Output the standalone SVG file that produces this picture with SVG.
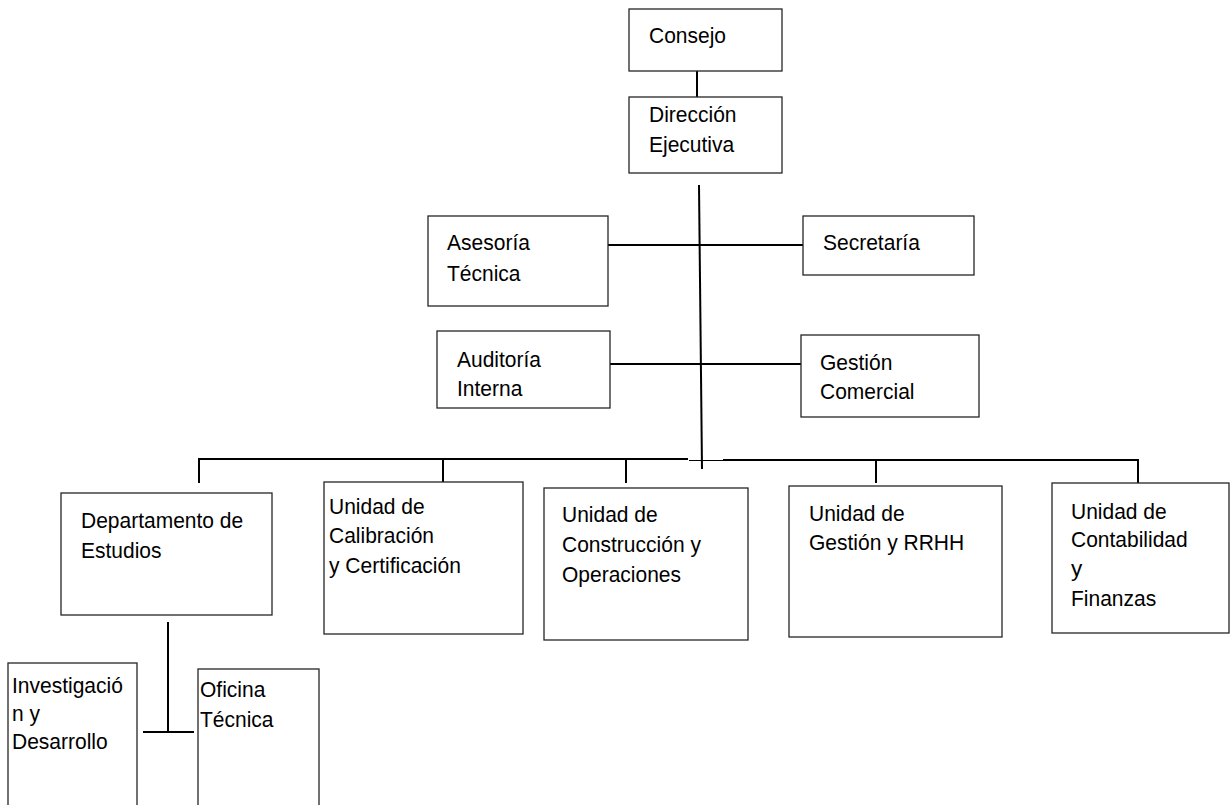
<svg xmlns="http://www.w3.org/2000/svg" width="1231" height="805" viewBox="0 0 1231 805">
<style>
  .box { fill: #ffffff; stroke: #262626; stroke-width: 1.3; }
  .t { font-family: "Liberation Sans", Arial, sans-serif; font-size: 22.5px; fill: #000000; }
  .c { stroke: #000000; stroke-width: 2; fill: none; }
  .thin { stroke: #000000; stroke-width: 1.2; fill: none; }
</style>
<rect width="1231" height="805" fill="#ffffff"/>

<g id="connectors">
  <line class="c" x1="697" y1="71" x2="697" y2="97"/>
  <line class="c" x1="699" y1="185" x2="702" y2="469"/>
  <line class="c" x1="605" y1="245" x2="803" y2="245"/>
  <line class="c" x1="603" y1="364" x2="803" y2="364"/>
  <line class="c" x1="198" y1="459" x2="688" y2="459"/>
  <line class="thin" x1="689" y1="460.5" x2="723" y2="460.5"/>
  <line class="c" x1="723" y1="460" x2="1139" y2="460"/>
  <line class="c" x1="199" y1="459" x2="199" y2="483"/>
  <line class="c" x1="443" y1="459" x2="443" y2="483"/>
  <line class="c" x1="626" y1="459" x2="626" y2="483"/>
  <line class="c" x1="876" y1="460" x2="876" y2="483"/>
  <line class="c" x1="1138" y1="460" x2="1138" y2="483"/>
  <line class="c" x1="168" y1="622" x2="168" y2="733"/>
  <line class="c" x1="143" y1="732" x2="194" y2="732"/>
</g>

<g id="consejo">
  <rect class="box" x="629" y="9" width="153" height="62"/>
  <text class="t" x="649" y="43" textLength="77" lengthAdjust="spacingAndGlyphs">Consejo</text>
</g>
<g id="direccion">
  <rect class="box" x="629" y="97" width="153" height="76"/>
  <text class="t" x="649" y="122" textLength="87.5" lengthAdjust="spacingAndGlyphs">Dirección</text>
  <text class="t" x="649" y="152" textLength="85.2" lengthAdjust="spacingAndGlyphs">Ejecutiva</text>
</g>
<g id="asesoria">
  <rect class="box" x="428" y="216" width="180" height="90"/>
  <text class="t" x="447" y="250" textLength="82.9" lengthAdjust="spacingAndGlyphs">Asesoría</text>
  <text class="t" x="447" y="281" textLength="73.5" lengthAdjust="spacingAndGlyphs">Técnica</text>
</g>
<g id="secretaria">
  <rect class="box" x="803" y="216" width="171" height="59"/>
  <text class="t" x="823" y="250" textLength="96.9" lengthAdjust="spacingAndGlyphs">Secretaría</text>
</g>
<g id="auditoria">
  <rect class="box" x="437" y="331" width="173" height="77"/>
  <text class="t" x="457" y="367" textLength="84" lengthAdjust="spacingAndGlyphs">Auditoría</text>
  <text class="t" x="457" y="396" textLength="65.4" lengthAdjust="spacingAndGlyphs">Interna</text>
</g>
<g id="gestion-comercial">
  <rect class="box" x="801" y="335" width="178" height="82"/>
  <text class="t" x="820" y="370" textLength="72.4" lengthAdjust="spacingAndGlyphs">Gestión</text>
  <text class="t" x="820" y="399" textLength="94.5" lengthAdjust="spacingAndGlyphs">Comercial</text>
</g>
<g id="departamento">
  <rect class="box" x="61" y="493" width="211" height="122"/>
  <text class="t" x="81" y="528" textLength="162.2" lengthAdjust="spacingAndGlyphs">Departamento de</text>
  <text class="t" x="81" y="558" textLength="80.5" lengthAdjust="spacingAndGlyphs">Estudios</text>
</g>
<g id="calibracion">
  <rect class="box" x="324" y="482" width="199" height="152"/>
  <text class="t" x="329" y="514" textLength="95.7" lengthAdjust="spacingAndGlyphs">Unidad de</text>
  <text class="t" x="329" y="543" textLength="105" lengthAdjust="spacingAndGlyphs">Calibración</text>
  <text class="t" x="329" y="573" textLength="131.9" lengthAdjust="spacingAndGlyphs">y Certificación</text>
</g>
<g id="construccion">
  <rect class="box" x="544" y="488" width="204" height="152"/>
  <text class="t" x="562" y="522" textLength="95.7" lengthAdjust="spacingAndGlyphs">Unidad de</text>
  <text class="t" x="562" y="552" textLength="138.9" lengthAdjust="spacingAndGlyphs">Construcción y</text>
  <text class="t" x="562" y="582" textLength="119" lengthAdjust="spacingAndGlyphs">Operaciones</text>
</g>
<g id="gestion-rrhh">
  <rect class="box" x="789" y="486" width="213" height="151"/>
  <text class="t" x="809" y="521" textLength="95.7" lengthAdjust="spacingAndGlyphs">Unidad de</text>
  <text class="t" x="809" y="550" textLength="155.2" lengthAdjust="spacingAndGlyphs">Gestión y RRHH</text>
</g>
<g id="contabilidad">
  <rect class="box" x="1052" y="483" width="177" height="150"/>
  <text class="t" x="1071" y="519" textLength="95.7" lengthAdjust="spacingAndGlyphs">Unidad de</text>
  <text class="t" x="1071" y="547" textLength="116.7" lengthAdjust="spacingAndGlyphs">Contabilidad</text>
  <text class="t" x="1071" y="576">y</text>
  <text class="t" x="1071" y="606" textLength="85.2" lengthAdjust="spacingAndGlyphs">Finanzas</text>
</g>
<g id="investigacion">
  <rect class="box" x="8" y="663" width="129" height="160"/>
  <text class="t" x="12" y="693" textLength="110.9" lengthAdjust="spacingAndGlyphs">Investigació</text>
  <text class="t" x="12" y="721" textLength="28" lengthAdjust="spacingAndGlyphs">n y</text>
  <text class="t" x="12" y="749" textLength="95.7" lengthAdjust="spacingAndGlyphs">Desarrollo</text>
</g>
<g id="oficina">
  <rect class="box" x="198" y="669" width="121" height="160"/>
  <text class="t" x="200" y="697" textLength="65.4" lengthAdjust="spacingAndGlyphs">Oficina</text>
  <text class="t" x="200" y="727" textLength="73.5" lengthAdjust="spacingAndGlyphs">Técnica</text>
</g>
</svg>
